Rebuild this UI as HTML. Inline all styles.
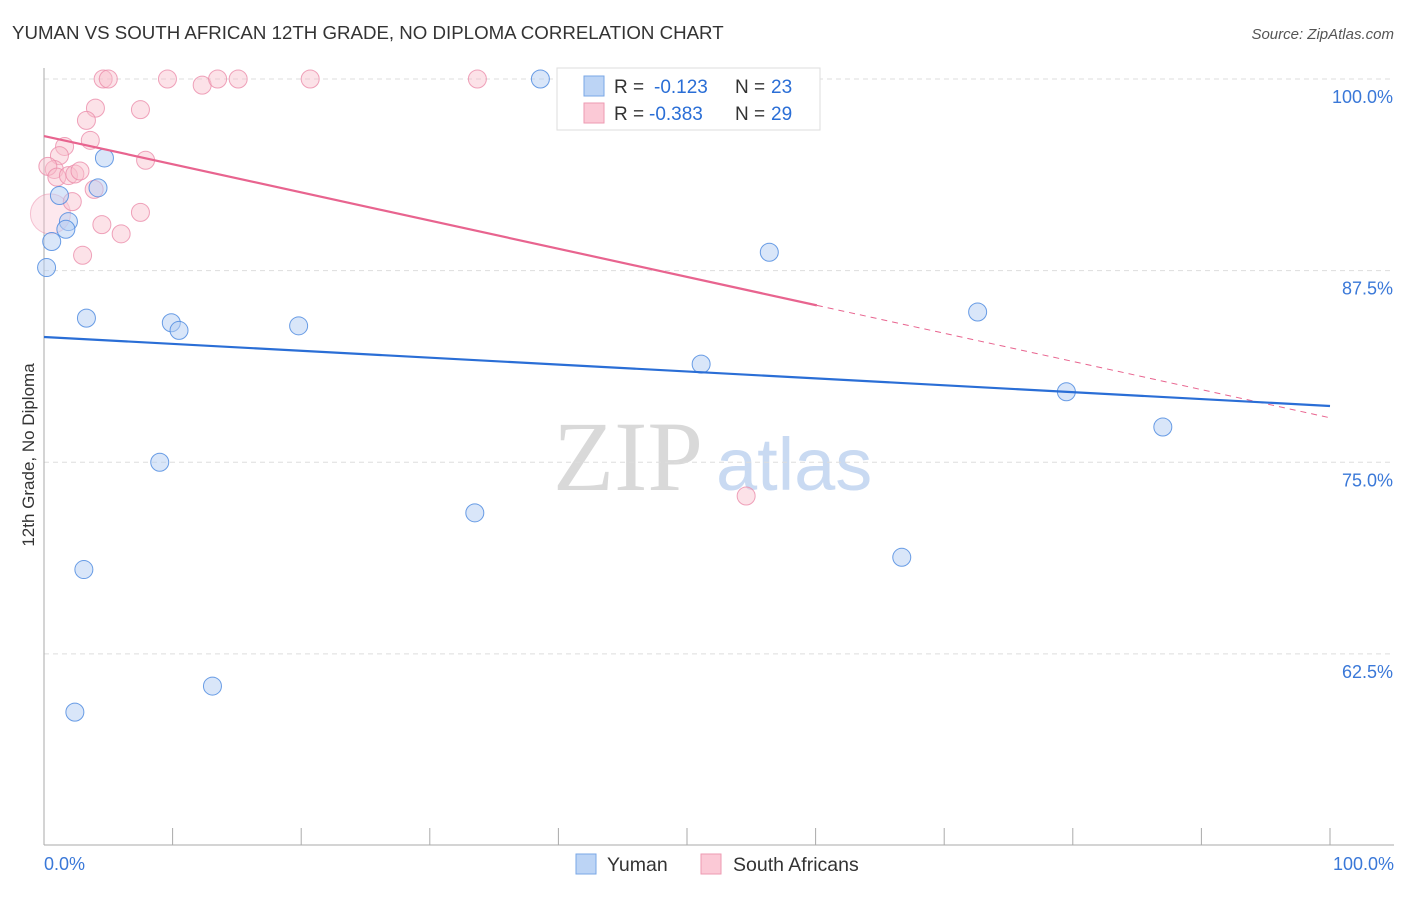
<!DOCTYPE html>
<html><head><meta charset="utf-8"><style>
body{margin:0;background:#fff;font-family:"Liberation Sans",sans-serif}
svg text{font-family:"Liberation Sans",sans-serif}
</style></head><body>
<svg id="c" width="1406" height="892">
<text x="12" y="39" font-size="18.7" fill="#333">YUMAN VS SOUTH AFRICAN 12TH GRADE, NO DIPLOMA CORRELATION CHART</text>
<text x="1394" y="39" font-size="15" fill="#555" text-anchor="end" font-style="italic">Source: ZipAtlas.com</text>
<text x="553" y="490" font-size="100" fill="#d9d9d9" style="font-family:'Liberation Serif',serif">ZIP</text>
<text x="716" y="490" font-size="74" fill="#c9daf2">atlas</text>
<text transform="translate(34,455) rotate(-90)" font-size="17" fill="#333" text-anchor="middle">12th Grade, No Diploma</text>
<g id="grid"></g><g id="marks"></g>
<g>
<rect x="557" y="68" width="263" height="62" fill="#fff" stroke="#ddd"/>
<rect x="584" y="76" width="20" height="20" fill="#bcd4f5" stroke="#7aa7e6"/>
<rect x="584" y="103" width="20" height="20" fill="#fbc9d6" stroke="#ee9ab2"/>
<text x="614" y="93" font-size="19" fill="#333">R =</text>
<text x="654" y="93" font-size="19" fill="#2a6ed6">-0.123</text>
<text x="735" y="93" font-size="19" fill="#333">N =</text>
<text x="771" y="93" font-size="19" fill="#2a6ed6">23</text>
<text x="614" y="120" font-size="19" fill="#333">R =</text>
<text x="649" y="120" font-size="19" fill="#2a6ed6">-0.383</text>
<text x="735" y="120" font-size="19" fill="#333">N =</text>
<text x="771" y="120" font-size="19" fill="#2a6ed6">29</text>
</g>
<g>
<rect x="576" y="854" width="20" height="20" fill="#bcd4f5" stroke="#7aa7e6"/>
<text x="607" y="871" font-size="19.5" fill="#333">Yuman</text>
<rect x="701" y="854" width="20" height="20" fill="#fbc9d6" stroke="#ee9ab2"/>
<text x="733" y="871" font-size="19.5" fill="#333">South Africans</text>
</g>
</svg>
<script>
const yumanX=[38.6,4.7,4.2,1.2,1.9,1.7,0.6,0.2,3.3,9.9,10.5,19.8,56.4,72.6,51.1,79.5,87.0,9.0,33.5,3.1,66.7,13.1,2.4];
const yumanY=[100,94.85,92.9,92.4,90.7,90.2,89.4,87.7,84.4,84.1,83.6,83.9,88.7,84.8,81.4,79.6,77.3,75.0,71.7,68.0,68.8,60.4,58.7];
const saX=[4.6,5.0,9.6,12.3,13.5,15.1,20.7,33.7,4.0,7.5,3.3,3.6,1.6,1.2,7.9,0.8,0.3,1.0,1.9,2.4,2.8,3.9,2.2,7.5,4.5,6.0,3.0,54.6];
const saY=[100,100,100,99.6,100,100,100,100,98.1,98.0,97.3,96.0,95.6,95.0,94.7,94.1,94.3,93.6,93.7,93.8,94.0,92.8,92.0,91.3,90.5,89.9,88.5,72.8];
const yTicks=[100,87.5,75,62.5];
const yTickLabels=["100.0%","87.5%","75.0%","62.5%"];
const blueTrend=[83.17,78.67];
const pinkTrend=[96.28,77.9];
const pinkSolidEnd=60.1;
const X=v=>44+v*12.86, Y=v=>79+(100-v)*15.33;
const NS="http://www.w3.org/2000/svg";
const g=document.getElementById('grid'), m=document.getElementById('marks');
function mk(p,tag,a){const e=document.createElementNS(NS,tag);for(const k in a)e.setAttribute(k,a[k]);p.appendChild(e);return e;}
yTicks.forEach((t,i)=>{
 const l=mk(g,'line',{x1:44,x2:1394,y1:Y(t),y2:Y(t),stroke:'#ddd','stroke-dasharray':'5,4'});
 
 
 const tx=mk(g,'text',{x:1393,y:Y(t)+24,'font-size':18,fill:'#3a78d8','text-anchor':'end'});tx.textContent=yTickLabels[i];
 
 
});
const ax=mk(g,'line',{x1:44,x2:44,y1:68,y2:845,stroke:'#aaa'});


const bx=mk(g,'line',{x1:44,x2:1394,y1:845,y2:845,stroke:'#aaa'});


for(let i=0;i<=10;i++){const t=mk(g,'line',{x1:X(i*10),x2:X(i*10),y1:828,y2:845,stroke:'#aaa'});
 
 }
[[0,"0.0%",'start',44],[100,"100.0%",'end',1394]].forEach(d=>{const t=mk(g,'text',{x:d[3],y:870,'font-size':18,fill:'#3a78d8','text-anchor':d[2]});t.textContent=d[1];
 
 });
const big=mk(m,'circle',{cx:X(0.5),cy:Y(91.2),r:20,fill:'rgba(248,190,205,0.35)',stroke:'rgba(235,140,170,0.5)'});


saX.forEach((x,i)=>{const c=mk(m,'circle',{cx:X(x),cy:Y(saY[i]),r:9,fill:'rgba(248,190,205,0.45)',stroke:'rgba(235,140,170,0.8)'});
 
 });
yumanX.forEach((x,i)=>{const c=mk(m,'circle',{cx:X(x),cy:Y(yumanY[i]),r:9,fill:'rgba(180,206,244,0.5)',stroke:'rgba(80,140,225,0.85)'});
 
 });
const pAt=v=>pinkTrend[0]+(pinkTrend[1]-pinkTrend[0])*v/100;
const ps=mk(m,'line',{x1:X(0),y1:Y(pinkTrend[0]),x2:X(pinkSolidEnd),y2:Y(pAt(pinkSolidEnd)),stroke:'#e8648f','stroke-width':2.2});


const pd=mk(m,'line',{x1:X(pinkSolidEnd),y1:Y(pAt(pinkSolidEnd)),x2:X(100),y2:Y(pinkTrend[1]),stroke:'#e8648f','stroke-width':1,'stroke-dasharray':'6,5'});


const bl=mk(m,'line',{x1:X(0),y1:Y(blueTrend[0]),x2:X(100),y2:Y(blueTrend[1]),stroke:'#2a6ed6','stroke-width':2.2});


</script>
</body></html>
